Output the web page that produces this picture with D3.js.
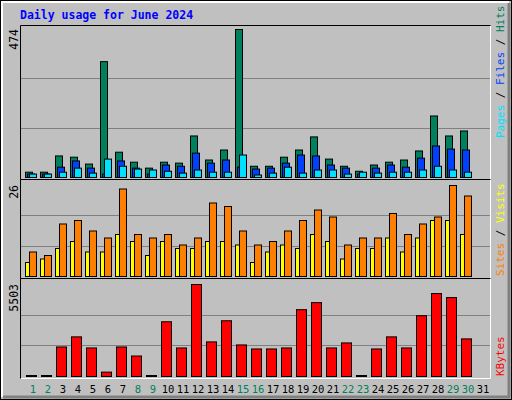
<!DOCTYPE html>
<html><head><meta charset="utf-8">
<script src="https://cdn.jsdelivr.net/npm/d3@7"></script>
<style>body{margin:0;background:#fff}svg{display:block}</style></head>
<body><svg id="c" width="512" height="400"></svg>
<script>
const days = d3.range(1,32);
const weekend = [1,2,8,9,15,16,22,23,29,30];
const hits  = [17,17,69,65,43,371,81,49,30,49,46,133,56,88,474,36,36,65,88,130,59,36,20,40,49,56,85,197,133,149,0];
const files = [11,11,33,53,30,11,53,30,11,40,36,78,46,56,33,27,30,46,72,69,40,30,11,30,40,33,62,101,91,88,0];
const pages = [11,11,17,30,14,59,36,27,24,20,14,24,17,17,72,8,14,33,14,24,24,11,17,14,17,17,24,36,24,17,0];
const sites = [4,5,8,10,7,7,12,10,6,10,8,8,10,10,9,4,7,9,8,12,10,5,8,8,11,7,11,16,16,12,0];
const visits= [7,6,15,16,13,11,25,12,11,12,9,11,21,20,13,9,10,13,16,19,17,9,11,11,18,12,15,17,26,23,0];
const kbytes= [0,0,1767,2370,1707,261,1767,1225,0,3274,1707,5503,2069,3334,1888,1647,1647,1707,3997,4418,1707,2008,0,1647,2370,1707,3635,4961,4720,2249,0];

const svg = d3.select('#c');
const F = "'DejaVu Sans Mono', monospace";
svg.append('rect').attr('x',0.5).attr('y',0.5).attr('width',511).attr('height',399).attr('fill','#c0c0c0').attr('stroke','#000');
svg.append('path').attr('d','M2,397 L2,2 L509,2').attr('fill','none').attr('stroke','#fff').attr('stroke-width',2);
svg.append('path').attr('d','M3,397 L509,397 L509,3').attr('fill','none').attr('stroke','#808080').attr('stroke-width',3);
svg.append('text').attr('x',20).attr('y',19).attr('font-family',F).attr('font-weight','bold').attr('font-size',11.5).attr('fill','#0000ff').text('Daily usage for June 2024');

const x = d3.scaleLinear().domain([1,31]).range([25,475]);
const panels = [
  {top:25, base:177, max:474, label:'474', ymaxPx:29},
  {top:179, base:276, max:26, label:'26', ymaxPx:185},
  {top:278, base:376, max:5503, label:'5503', ymaxPx:284}
];
panels.forEach(p=>{
  p.y = d3.scaleLinear().domain([0,p.max]).range([p.base,p.ymaxPx]);
  const g = svg.append('g');
  g.append('rect').attr('x',20.5).attr('y',p.top+0.5).attr('width',470).attr('height',p.base-p.top+2).attr('fill','#c0c0c0');
  [p.max/3,2*p.max/3].forEach(v=>g.append('line').attr('x1',21).attr('x2',490).attr('y1',Math.round(p.y(v))+0.5).attr('y2',Math.round(p.y(v))+0.5).attr('stroke','#808080').attr('stroke-width',1));
  g.append('path').attr('d',`M20.5,${p.base+2.5} L20.5,${p.top+0.5} L490.5,${p.top+0.5}`).attr('fill','none').attr('stroke','#000');
  g.append('path').attr('d',`M21,${p.base+2.5} L490.5,${p.base+2.5} L490.5,${p.top+1}`).attr('fill','none').attr('stroke','#fff');
  svg.append('text').attr('transform',`translate(18,${p.ymaxPx}) rotate(-90)`).attr('text-anchor','end').attr('font-family',F).attr('font-size',11.5).attr('fill','#000').text(p.label);
});
function bars(data, p, off, w, fill){
  svg.append('g').selectAll('rect').data(data.map((v,i)=>({v,d:days[i]})).filter(o=>o.d<31)).join('rect')
    .attr('x',o=>x(o.d)+off+0.5).attr('width',w)
    .attr('y',o=>Math.min(p.y(o.v),p.base-1)+0.5).attr('height',o=>Math.max(p.base-p.y(o.v),1))
    .attr('fill',fill).attr('stroke','#000').attr('stroke-width',1);
}
bars(hits,panels[0],0,7,'#00805c');
bars(files,panels[0],2,7,'#0040ff');
bars(pages,panels[0],4,7,'#00e0ff');
bars(sites,panels[1],0,5,'#ffff00');
bars(visits,panels[1],4,7,'#ff8000');
bars(kbytes,panels[2],1,10,'#ff0000');

svg.append('g').selectAll('text').data(days).join('text')
  .attr('x',d=>x(d)+8).attr('y',393).attr('text-anchor','middle').attr('font-family',F).attr('font-size',10.5)
  .attr('fill',d=>weekend.includes(d)?'#00805c':'#000').text(d=>d);

function rlabel(yBottom, parts){
  const t = svg.append('text').attr('transform',`translate(504,${yBottom}) rotate(-90)`).attr('font-family',F).attr('font-size',11);
  parts.forEach(([s,c])=>t.append('tspan').attr('fill',c).text(s));
}
rlabel(138,[['Pages','#00e0ff'],[' / ','#000'],['Files','#0040ff'],[' / ','#000'],['Hits','#00805c']]);
rlabel(276,[['Sites','#ff8000'],[' / ','#000'],['Visits','#ffff00']]);
rlabel(376,[['KBytes','#ff0000']]);
</script></body></html>
